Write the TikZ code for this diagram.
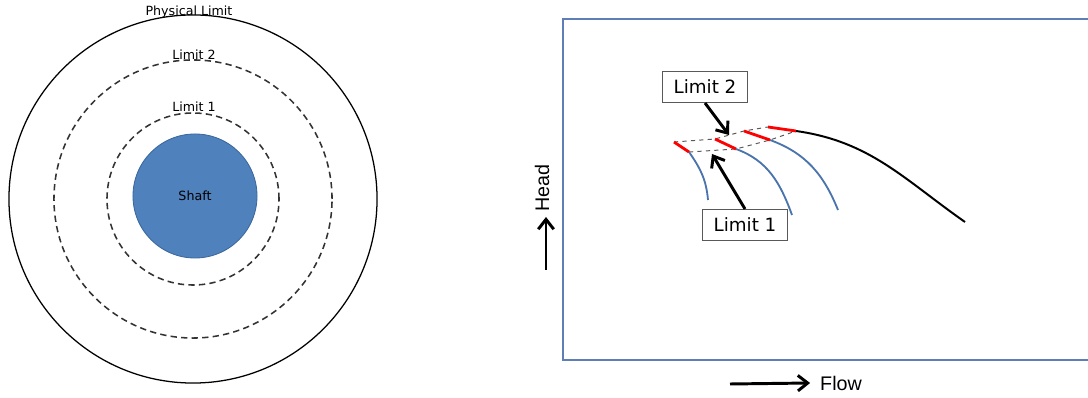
\documentclass[tikz,border=0pt]{standalone}
\usepackage{fontspec}
\setmainfont{DejaVu Sans}
\newfontfamily\axisfont{Liberation Sans}
\usetikzlibrary{arrows.meta, positioning}

\definecolor{shaftblue}{HTML}{4F81BD}
\definecolor{shaftedge}{HTML}{3A679C}
\definecolor{curveblue}{HTML}{4A74AC}
\definecolor{frameblue}{HTML}{5D7FB6}

\begin{document}
\begin{tikzpicture}
[x=0.025cm, y=-0.025cm,
ring/.style={circle, draw=black, line width=0.9pt, inner sep=0pt, outer sep=0pt},
limitring/.style={ring, draw=black!80, line width=1.1pt, dash pattern=on 4.5pt off 3pt},
shaft/.style={circle, draw=shaftedge, fill=shaftblue, line width=0.6pt, inner sep=0pt, font=\fontsize{9}{10}\selectfont},
ringlabel/.style={inner sep=0pt, font=\fontsize{9}{10}\selectfont},
tag/.style={rectangle, draw=black!65, line width=0.8pt, fill=white, minimum width=60pt, minimum height=22pt, inner sep=2pt, font=\fontsize{13}{15}\selectfont},
pointer/.style={-{Straight Barb[length=7pt, width=11pt]}, line width=2.1pt},
axislabel/.style={inner sep=0pt, font=\axisfont\fontsize{14}{16}\selectfont},
pump/.style={draw=curveblue, line width=1.3pt},
cut/.style={draw=red, line width=2pt},
limitline/.style={draw=black!65, dashed, line width=0.7pt}]

\useasboundingbox (0,0) rectangle (1088,398);

% left: shaft and limits
\node[ring, minimum size=9.2cm] (outer) at (193,199) {};
\node[limitring, minimum size=6.95cm] (limittwo) at (193,199) {};
\node[limitring, minimum size=4.3cm] (limitone) at (193,199) {};
\node[shaft, minimum size=3.1cm] (shaft) at (195,196) {Shaft};

\node[ringlabel] (physlabel) at (189,12) {Physical Limit};
\node[ringlabel] (twolabel) at (194,55) {Limit 2};
\node[ringlabel] (onelabel) at (194,107) {Limit 1};

% right: pump curves
\draw[frameblue, line width=1.6pt] (1095,19) -| (563,360) -- (1095,360);

\coordinate (a1) at (674,142); \coordinate (b1) at (689,152);
\coordinate (a2) at (715,139); \coordinate (b2) at (736,149);
\coordinate (a3) at (744,131); \coordinate (b3) at (770,140);
\coordinate (a4) at (768,127); \coordinate (b4) at (796,131);

\draw[limitline] (a1) -- (a2) -- (a3) -- (a4);
\draw[limitline] (b1) -- (b2) -- (b3) -- (b4);

\draw[pump] (b1) to[out=-55, in=95] (708,200);
\draw[pump] (b2) to[out=-20, in=110] (792,215);
\draw[pump] (b3) to[out=-20, in=112] (838,210);
\draw[black, line width=1.4pt] (b4) to[out=-8, in=145] (965,222);

\foreach \i in {1,...,4}
  \draw[cut] (a\i) -- (b\i);

\node[tag] (tagtwo) at (705,87) {Limit 2};
\node[tag] (tagone) at (745,225) {Limit 1};
\coordinate (twotip) at (729,135);
\coordinate (onetip) at (712,154);
\draw[pointer] (tagtwo.south) -- (twotip);
\draw[pointer] (tagone.north) -- (onetip);

% axes
\node[axislabel, rotate=90] (head) at (542,188) {Head};
\coordinate (headtail) at (546,270);
\coordinate (headtip) at (546,217);
\draw[pointer] (headtail) -- (headtip);

\node[axislabel] (flow) at (841,383) {Flow};
\coordinate (flowtail) at (730,384);
\draw[pointer] (flowtail) -- ([xshift=-7pt]flow.west);
\end{tikzpicture}
\end{document}
